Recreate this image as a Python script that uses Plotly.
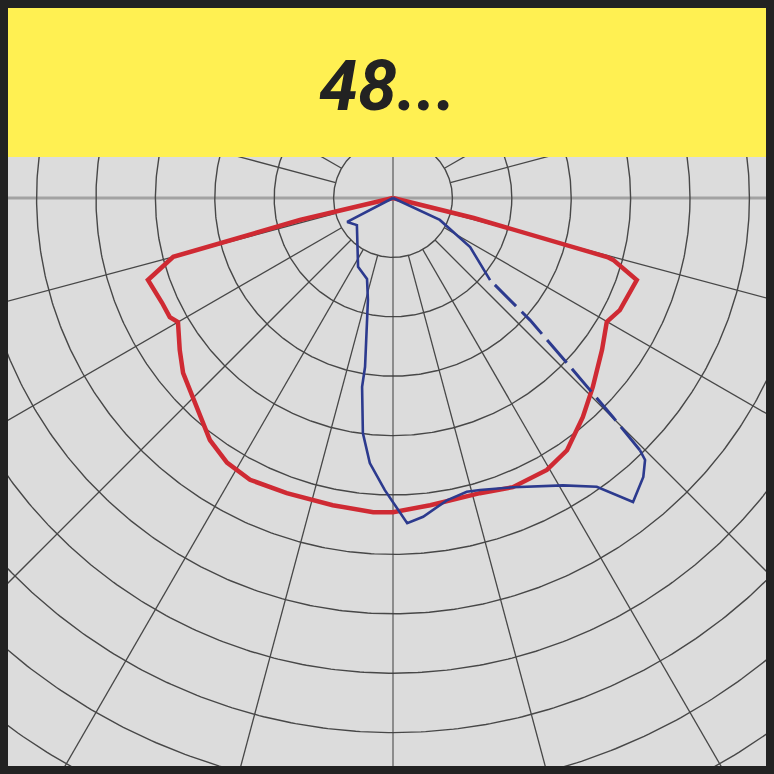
import numpy as np
import plotly.graph_objects as go

# canvas geometry (pixels)
W = H = 774
FRAME = 8
HEADER_BOTTOM = 157
CENTER_X, CENTER_Y = 393, 198
RING_PX = 59.4

title_text = "48..."
ring_count = 12
spoke_step = 15

# light distribution, angle from nadir (deg, + = right), value in ring units
red_angle = [-90, -76.7, -75.0, -71.5, -65.6, -61.9, -60.0, -54.5, -50.2, -43.2,
             -37.1, -32.1, -26.9, -19.8, -11.1, -3.6, 0, 6.9, 16.4, 22.5, 29.5,
             34.6, 40.9, 46.6, 54.0, 59.9, 63.7, 71.4, 74.3, 74.6, 76.1, 90]
red_value = [0, 1.61, 3.83, 4.35, 4.27, 4.26, 4.18, 4.41, 4.60, 4.82,
             5.11, 5.26, 5.32, 5.28, 5.27, 5.30, 5.29, 5.21, 5.18, 5.27, 5.26,
             5.16, 4.88, 4.63, 4.35, 4.16, 4.26, 4.33, 3.85, 3.74, 1.40, 0]

blue_angle = [-90, -62.4, -53.1, -36.3, -26.9, -17.8, -13.8, -9.4, -9.3, -7.3,
              -5.0, -1.6, 2.5, 5.4, 10.1, 14.1, 16.6, 22.5, 30.6, 35.2, 38.3,
              41.9, 43.9, 44.4, 45.1, 46.3, 48.3, 49.8, 57.5, 64.9, 90]
blue_value = [0, 0.87, 0.76, 1.02, 1.30, 1.43, 1.77, 2.88, 3.22, 3.99,
              4.48, 4.92, 5.48, 5.39, 5.17, 5.10, 5.13, 5.27, 5.62, 5.95, 6.52,
              6.31, 6.12, 5.94, 5.23, 4.19, 3.09, 2.14, 1.54, 0.87, 0]
blue_dashed = (23, 27)  # index range drawn with the broken line


def to_xy(angle, value):
    a = np.radians(np.asarray(angle, float))
    v = np.asarray(value, float)
    return v * np.sin(a), -v * np.cos(a)


fig = go.Figure()

# horizontal axis through the lamp centre
fig.add_trace(go.Scatter(x=[-20, 20], y=[0, 0], mode="lines",
                         line=dict(color="#a2a2a2", width=3), hoverinfo="skip"))

# concentric rings
t = np.linspace(0, 2 * np.pi, 721)
cx, cy = [], []
for k in range(1, ring_count + 1):
    cx += list(k * np.cos(t)) + [None]
    cy += list(k * np.sin(t)) + [None]
fig.add_trace(go.Scatter(x=cx, y=cy, mode="lines",
                         line=dict(color="#474747", width=1.4), hoverinfo="skip"))

# spokes every 15 deg, starting at the first ring
sx, sy = [], []
for a in range(0, 360, spoke_step):
    if a % 90 == 0:
        continue
    r = np.radians(a)
    sx += [np.sin(r), (ring_count + 2) * np.sin(r), None]
    sy += [-np.cos(r), -(ring_count + 2) * np.cos(r), None]
fig.add_trace(go.Scatter(x=sx, y=sy, mode="lines",
                         line=dict(color="#474747", width=1.3), hoverinfo="skip"))

# vertical axis
fig.add_trace(go.Scatter(x=[0, 0], y=[-20, 20], mode="lines",
                         line=dict(color="#3c3c3c", width=1), hoverinfo="skip"))

rx, ry = to_xy(red_angle, red_value)
fig.add_trace(go.Scatter(x=rx, y=ry, mode="lines",
                         line=dict(color="#cf2a33", width=4.5)))

bx, by = to_xy(blue_angle, blue_value)
i0, i1 = blue_dashed
fig.add_trace(go.Scatter(x=bx[:i0 + 1], y=by[:i0 + 1], mode="lines",
                         line=dict(color="#2c3a8e", width=2.6)))
fig.add_trace(go.Scatter(x=bx[i0:i1 + 1], y=by[i0:i1 + 1], mode="lines",
                         line=dict(color="#2c3a8e", width=3, dash="30px,8px")))
fig.add_trace(go.Scatter(x=bx[i1:], y=by[i1:], mode="lines",
                         line=dict(color="#2c3a8e", width=2.6)))

x_lo = (FRAME - CENTER_X) / RING_PX
x_hi = (W - FRAME - CENTER_X) / RING_PX
y_lo = -(H - FRAME - CENTER_Y) / RING_PX
y_hi = (CENTER_Y - HEADER_BOTTOM) / RING_PX

fig.update_xaxes(range=[x_lo, x_hi], domain=[FRAME / W, 1 - FRAME / W],
                 showgrid=False, zeroline=False, showticklabels=False, ticks="")
fig.update_yaxes(range=[y_lo, y_hi], domain=[FRAME / H, 1 - HEADER_BOTTOM / H],
                 showgrid=False, zeroline=False, showticklabels=False, ticks="")

fig.add_shape(type="rect", xref="paper", yref="paper",
              x0=FRAME / W, x1=1 - FRAME / W,
              y0=1 - HEADER_BOTTOM / H, y1=1 - FRAME / H,
              fillcolor="#fff052", line=dict(width=0), layer="below")
fig.add_annotation(text=f"<b><i>{title_text}</i></b>", xref="paper", yref="paper",
                   x=387 / W, y=1 - 86 / H, showarrow=False,
                   xanchor="center", yanchor="middle",
                   font=dict(family="Roboto, Liberation Sans, sans-serif",
                             size=70, color="#222222"))

fig.update_layout(width=W, height=H, margin=dict(l=0, r=0, t=0, b=0),
                  paper_bgcolor="#222222", plot_bgcolor="#dcdcdc",
                  showlegend=False)

# drop the page's default body margin so the figure sits flush in the window
fig.write_html("out.html", config={"displayModeBar": False},
               post_script="document.body.style.margin='0';")
